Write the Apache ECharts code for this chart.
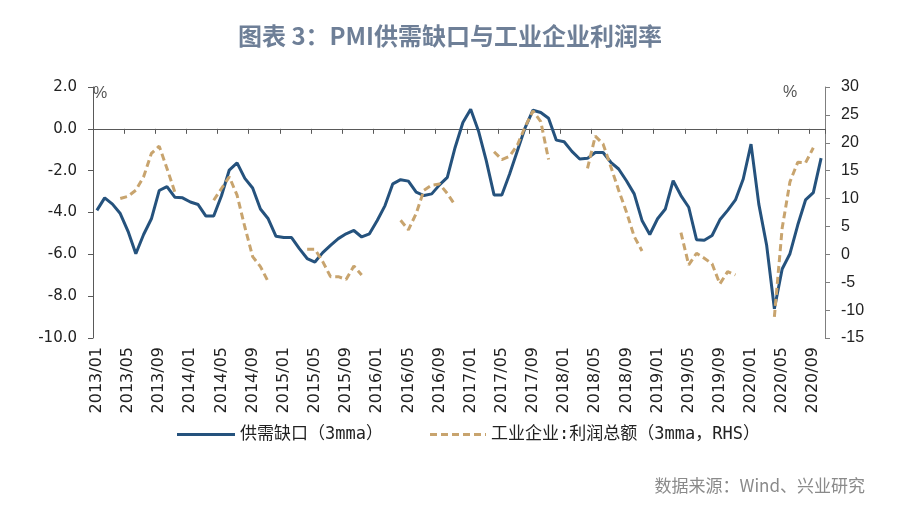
<!DOCTYPE html>
<html><head><meta charset="utf-8">
<script src="https://cdn.jsdelivr.net/npm/echarts@6.0.0/dist/echarts.min.js"></script>
<style>html,body{margin:0;padding:0;background:#fff}#c{width:900px;height:514px}</style>
</head><body><div id="c"></div>
<script>
const months = [
'2013/01','2013/02','2013/03','2013/04','2013/05','2013/06','2013/07','2013/08','2013/09','2013/10','2013/11','2013/12',
'2014/01','2014/02','2014/03','2014/04','2014/05','2014/06','2014/07','2014/08','2014/09','2014/10','2014/11','2014/12',
'2015/01','2015/02','2015/03','2015/04','2015/05','2015/06','2015/07','2015/08','2015/09','2015/10','2015/11','2015/12',
'2016/01','2016/02','2016/03','2016/04','2016/05','2016/06','2016/07','2016/08','2016/09','2016/10','2016/11','2016/12',
'2017/01','2017/02','2017/03','2017/04','2017/05','2017/06','2017/07','2017/08','2017/09','2017/10','2017/11','2017/12',
'2018/01','2018/02','2018/03','2018/04','2018/05','2018/06','2018/07','2018/08','2018/09','2018/10','2018/11','2018/12',
'2019/01','2019/02','2019/03','2019/04','2019/05','2019/06','2019/07','2019/08','2019/09','2019/10','2019/11','2019/12',
'2020/01','2020/02','2020/03','2020/04','2020/05','2020/06','2020/07','2020/08','2020/09','2020/10'];

// PMI supply-demand gap (3mma), left axis
const supplyDemandGap = [
-3.9,-3.3,-3.6,-4.05,-4.9,-5.97,-5.05,-4.3,-2.95,-2.76,-3.27,-3.3,
-3.5,-3.62,-4.17,-4.17,-3.2,-1.97,-1.63,-2.37,-2.83,-3.83,-4.3,-5.14,
-5.2,-5.2,-5.73,-6.2,-6.37,-5.92,-5.57,-5.25,-5.02,-4.86,-5.17,-5.02,
-4.38,-3.67,-2.63,-2.43,-2.5,-3.03,-3.19,-3.11,-2.68,-2.32,-0.89,0.3,
0.94,-0.1,-1.52,-3.16,-3.16,-2.16,-1.05,0.06,0.89,0.78,0.51,-0.54,
-0.62,-1.08,-1.44,-1.41,-1.13,-1.13,-1.6,-1.92,-2.48,-3.11,-4.38,-5.05,
-4.3,-3.83,-2.48,-3.19,-3.75,-5.3,-5.33,-5.1,-4.35,-3.9,-3.4,-2.4,
-0.73,-3.6,-5.55,-8.6,-6.7,-5.97,-4.6,-3.4,-3.05,-1.4];

// Industrial enterprises total profit (3mma, RHS)
const profitTotal = [
null,null,null,10.0,10.4,11.5,13.9,18.1,19.4,15.4,11.2,null,
null,null,null,9.7,11.8,13.9,10.6,4.9,-0.4,-2.2,-4.9,null,
null,null,null,0.9,0.9,-1.3,-4.0,-4.0,-4.5,-2.1,-3.7,null,
null,null,null,6.1,4.4,7.3,11.5,12.4,12.6,10.9,8.8,null,
null,null,null,18.4,17.0,17.6,19.6,22.9,25.7,23.8,17.0,null,
null,null,null,15.4,21.2,19.8,15.7,11.5,7.6,3.2,0.6,null,
null,null,null,3.9,-1.9,0.2,-0.7,-1.7,-5.3,-3.1,-3.7,null,
null,null,null,-11.2,4.7,13.0,16.5,16.4,19.1,null];

const seriesNames = ['供需缺口（3mma）','工业企业:利润总额（3mma，RHS）'];
const leftAxis = {min:-10, max:2, interval:2};
const rightAxis = {min:-15, max:30, interval:5};

const BLUE = '#25527d', TAN = '#c8a46e', AX = '#595959';
const solidIcon = 'path://M0,0H58V3H0Z';
const dashedIcon = 'path://M0,0H7V3H0Z M11,0H18V3H11Z M22,0H29V3H22Z M33,0H40V3H33Z M44,0H51V3H44Z M55,0H56V3H55Z';
const chart = echarts.init(document.getElementById('c'), null, {renderer:'canvas'});
const legendText = {fontSize:17, color:'#222', fontFamily:'"DejaVu Sans Mono", "Noto Sans CJK SC", monospace'};
chart.setOption({
  animation:false,
  backgroundColor:'#fff',
  title:[
    {text:'图表 3：PMI供需缺口与工业企业利润率', left:'center', top:19,
     textStyle:{fontSize:24, color:'#6e7f97', fontWeight:'bold', fontFamily:'"Noto Sans CJK SC", sans-serif'}},
    {text:'数据来源：Wind、兴业研究', right:30, top:472,
     textStyle:{fontSize:17, color:'#8a8a8a', fontWeight:'normal', fontFamily:'"Noto Sans CJK SC", sans-serif'}}
  ],
  legend:[
    {data:[{name:seriesNames[0], icon:solidIcon}], left:172, top:421, itemWidth:58, itemHeight:3, itemGap:6, textStyle:legendText},
    {data:[{name:seriesNames[1], icon:dashedIcon}], left:425, top:421, itemWidth:56, itemHeight:3, itemGap:6, textStyle:legendText}
  ],
  grid:{left:93, right:75, top:87, bottom:176},
  xAxis:[
    {type:'category', data:months, boundaryGap:true, position:'bottom',
     axisLine:{show:true, onZero:true, lineStyle:{color:AX, width:1}},
     axisTick:{show:true, interval:3, length:5, inside:false, lineStyle:{color:AX}},
     axisLabel:{show:false}, splitLine:{show:false}},
    {type:'category', data:months, boundaryGap:true, position:'bottom',
     axisLine:{show:false, onZero:false}, axisTick:{show:false}, splitLine:{show:false},
     axisLabel:{interval:3, rotate:90, margin:9, fontSize:16, color:'#222', fontFamily:'"DejaVu Sans", sans-serif'}}
  ],
  yAxis:[
    {type:'value', min:leftAxis.min, max:leftAxis.max, interval:leftAxis.interval, position:'left',
     axisLine:{show:true, lineStyle:{color:AX}}, axisTick:{show:true, length:5, lineStyle:{color:AX}},
     splitLine:{show:false},
     axisLabel:{formatter:v=>v.toFixed(1), fontSize:15, margin:16, color:'#222', fontFamily:'"DejaVu Sans", sans-serif'}},
    {type:'value', min:rightAxis.min, max:rightAxis.max, interval:rightAxis.interval, position:'right',
     axisLine:{show:true, lineStyle:{color:'#7f7f7f'}}, axisTick:{show:true, length:5, lineStyle:{color:'#7f7f7f'}},
     splitLine:{show:false},
     axisLabel:{fontSize:16, margin:16, color:'#222', fontFamily:'"Liberation Sans", Arial, sans-serif'}}
  ],
  graphic:[
    {type:'text', left:93, top:86, style:{text:'%', fontSize:16, fill:'#555', fontFamily:'"Liberation Sans", sans-serif'}},
    {type:'text', left:783, top:85, style:{text:'%', fontSize:16, fill:'#555', fontFamily:'"Liberation Sans", sans-serif'}}
  ],
  series:[
    {name:seriesNames[0], type:'line', data:supplyDemandGap, xAxisIndex:0, yAxisIndex:0,
     symbol:'none', lineStyle:{color:BLUE, width:3}, itemStyle:{color:BLUE}},
    {name:seriesNames[1], type:'line', data:profitTotal, xAxisIndex:0, yAxisIndex:1,
     symbol:'none', connectNulls:false, lineStyle:{color:TAN, width:3, type:[7,4]}, itemStyle:{color:TAN}}
  ]
});
</script></body></html>
